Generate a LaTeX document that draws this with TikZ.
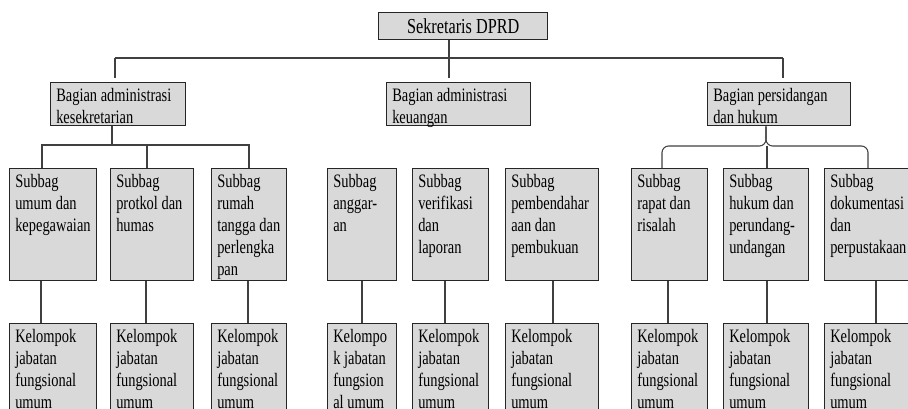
\documentclass[tikz,border=0pt]{standalone}
\usepackage{fontspec}
\setmainfont{Liberation Serif}[FakeStretch=0.76]
\definecolor{abu}{HTML}{D9D9D9}
\tikzset{
  kotak/.style 2 args={draw=black!85, fill=abu, line width=1.1pt, anchor=north west,
    inner sep=0pt, minimum width=#1*0.75pt, minimum height=#2*0.75pt},
  isi/.style={anchor=north west, inner xsep=4.5pt, inner ysep=4.5pt, align=left,
    font=\fontsize{14.25}{16.5}\selectfont},
  garis/.style={draw=black!75, line width=0.8pt}
}
\begin{document}
\begin{tikzpicture}[x=0.75pt, y=-0.75pt]
    \useasboundingbox (0,0) rectangle (908,409);
    % Top box
    \node[kotak={169}{27}, font=\fontsize{16}{18}\selectfont] (sek) at (378,12) {Sekretaris DPRD};
    % Bagian
    \node[kotak={135}{43}] (bag1) at (50,82) {};
    \node[kotak={144}{43}] (bag2) at (386,82) {};
    \node[kotak={143}{43}] (bag3) at (707,82) {};
    \node[isi] (bag1t) at (bag1.north west) {Bagian administrasi\\kesekretarian};
    \node[isi] (bag2t) at (bag2.north west) {Bagian administrasi\\keuangan};
    \node[isi] (bag3t) at (bag3.north west) {Bagian persidangan\\dan hukum};
    % Subbag and kelompok boxes
    \foreach \n/\x/\w in {1/9/87, 2/110/83, 3/211/75, 4/327/69, 5/412/76,
                          6/505/93, 7/631/76, 8/723/85, 9/824/92} {
        \node[kotak={\w}{112}] (s\n) at (\x,168) {};
        \node[kotak={\w}{95}] (k\n) at (\x,323) {};
    }
    \node[isi] (s1t) at (s1.north west) {Subbag\\umum dan\\kepegawaian};
    \node[isi] (s2t) at (s2.north west) {Subbag\\protkol dan\\humas};
    \node[isi] (s3t) at (s3.north west) {Subbag\\rumah\\tangga dan\\perlengka\\pan};
    \node[isi] (s4t) at (s4.north west) {Subbag\\anggar-\\an};
    \node[isi] (s5t) at (s5.north west) {Subbag\\verifikasi\\dan\\laporan};
    \node[isi] (s6t) at (s6.north west) {Subbag\\pembendahar\\aan dan\\pembukuan};
    \node[isi] (s7t) at (s7.north west) {Subbag\\rapat dan\\risalah};
    \node[isi] (s8t) at (s8.north west) {Subbag\\hukum dan\\perundang-\\undangan};
    \node[isi] (s9t) at (s9.north west) {Subbag\\dokumentasi\\dan\\perpustakaan};
    \foreach \n in {1,2,3,5,6,7,8,9}
        \node[isi] (k\n t) at (k\n.north west) {Kelompok\\jabatan\\fungsional\\umum};
    \node[isi] (k4t) at (k4.north west) {Kelompo\\k jabatan\\fungsion\\al umum};
    % Lines from the top
    \coordinate (j0) at (449,58);
    \coordinate (j1) at (115,58);
    \coordinate (j3) at (783,58);
    \draw[garis] (sek.south -| j0) -- (j0);
    \draw[garis] (j1) -- (j3);
    \draw[garis, shorten >=3pt] (j1) -- (bag1.north -| j1);
    \draw[garis, shorten >=3pt] (j0) -- (bag2.north -| j0);
    \draw[garis, shorten >=3pt] (j3) -- (bag3.north -| j3);
    % Left group
    \coordinate (l0) at (112,145);
    \coordinate (l1) at (42,145);
    \coordinate (l2) at (147,145);
    \coordinate (l3) at (249,145);
    \draw[garis] (bag1.south -| l0) -- (l0);
    \draw[garis] (s1.north -| l1) -- (l1) -- (l3) -- (s3.north -| l3);
    \draw[garis] (l2) -- (s2.north -| l2);
    % Right group
    \coordinate (r0) at (766,146);
    \coordinate (r1) at (662,146);
    \coordinate (r2) at (767,146);
    \coordinate (r3) at (868,146);
    \draw[garis, rounded corners=5pt] (s7.north -| r1) -- (r1) -- (r0) -- (bag3.south -| r0);
    \draw[garis, rounded corners=5pt] (s9.north -| r3) -- (r3) -- (r0) -- (bag3.south -| r0);
    \draw[garis] (r2) -- (s8.north -| r2);
    % Down to kelompok
    \foreach \n/\x in {1/41, 2/146, 3/248, 4/362, 5/445, 6/553, 7/668, 8/767, 9/876}
        \draw[garis] (s\n.south -| \x,0) -- (k\n.north -| \x,0);
\end{tikzpicture}
\end{document}
